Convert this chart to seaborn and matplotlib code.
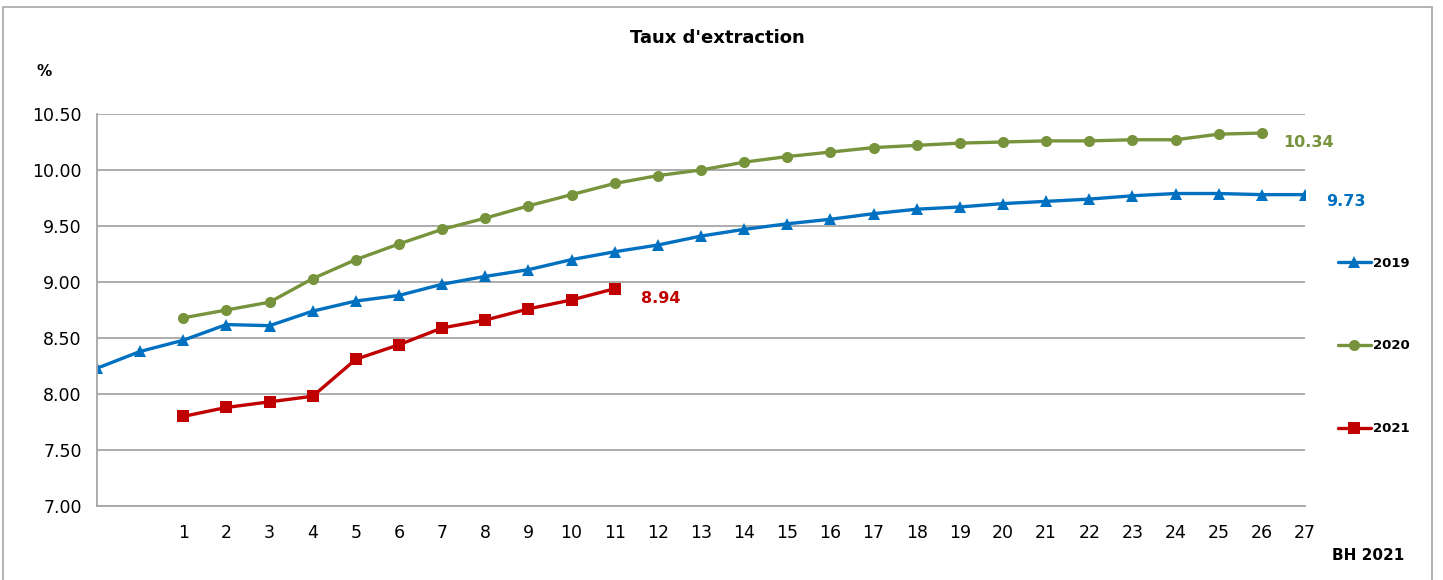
import numpy as np
import pandas as pd
import matplotlib
matplotlib.use("Agg")
import matplotlib.pyplot as plt
from matplotlib.lines import Line2D
from matplotlib.patches import Rectangle
import seaborn as sns

# ---- data ----
categories = ["", ""] + [str(i) for i in range(1, 28)]
years = ["2019", "2020", "2021"]
values_2019 = [8.23, 8.38, 8.48, 8.62, 8.61, 8.74, 8.83, 8.88, 8.98, 9.05,
               9.11, 9.20, 9.27, 9.33, 9.41, 9.47, 9.52, 9.56, 9.61, 9.65,
               9.67, 9.70, 9.72, 9.74, 9.77, 9.79, 9.79, 9.78, 9.78]
values_2020 = [8.68, 8.75, 8.82, 9.03, 9.20, 9.34, 9.47, 9.57, 9.68, 9.78,
               9.88, 9.95, 10.00, 10.07, 10.12, 10.16, 10.20, 10.22, 10.24,
               10.25, 10.26, 10.26, 10.27, 10.27, 10.32, 10.33]
values_2021 = [7.80, 7.88, 7.93, 7.98, 8.31, 8.44, 8.59, 8.66, 8.76, 8.84, 8.94]
start_other = "1"
end_labels = ["9.73", "10.34", "8.94"]
y_ticks = [7.00, 7.50, 8.00, 8.50, 9.00, 9.50, 10.00, 10.50]
title = "Taux d'extraction"
y_unit = "%"
x_title = "BH 2021"

colors = ["#0070C0", "#77933C", "#C00000"]
markers = ["^", "o", "s"]

# ---- build long table ----
rows = []
series = [values_2019, values_2020, values_2021]
starts = [0, categories.index(start_other), categories.index(start_other)]
for yr, vals, s in zip(years, series, starts):
    for i, v in enumerate(vals):
        rows.append({"x": s + i, "value": v, "year": yr})
df = pd.DataFrame(rows)

sns.set_style("white")
plt.rcParams["font.family"] = ["DejaVu Sans"]
plt.rcParams["text.color"] = "black"
plt.rcParams["axes.labelcolor"] = "black"
plt.rcParams["xtick.color"] = "black"
plt.rcParams["ytick.color"] = "black"

fig = plt.figure(figsize=(14.43, 5.80), dpi=100)
ax = fig.add_axes([97 / 1443, 1 - 506 / 580, (1305 - 97) / 1443, (506 - 114) / 580])

sns.lineplot(data=df, x="x", y="value", hue="year", style="year",
             palette=dict(zip(years, colors)), markers=dict(zip(years, markers)),
             dashes=False, linewidth=2.4, markersize=8, markeredgewidth=0,
             ax=ax, legend=False)

ax.set_xlim(0, len(categories) - 1)
ax.set_ylim(y_ticks[0], y_ticks[-1])
ax.set_xticks(range(len(categories)))
ax.set_xticklabels(categories, fontsize=12.5)
ax.set_yticks(y_ticks)
ax.set_yticklabels([f"{t:.2f}" for t in y_ticks], fontsize=12.5)
ax.set_xlabel("")
ax.set_ylabel("")
ax.yaxis.grid(True, color="#A6A6A6", linewidth=1.3)
ax.set_axisbelow(True)
for sp in ["top", "right"]:
    ax.spines[sp].set_visible(False)
for sp in ["left", "bottom"]:
    ax.spines[sp].set_color("#A6A6A6")
    ax.spines[sp].set_linewidth(1.3)
ax.tick_params(axis="x", direction="inout", length=10, width=1.3, color="#A6A6A6",
               pad=8, labelcolor="black")
ax.tick_params(axis="y", direction="out", length=5, width=1.3, color="#A6A6A6",
               pad=6, labelcolor="black")

# end-of-series labels
offsets = [(21, -7), (21, -9), (26, -10)]
for yr, vals, s, lab, c, off in zip(years, series, starts, end_labels, colors, offsets):
    ax.annotate(lab, xy=(s + len(vals) - 1, vals[-1]), xytext=off,
                textcoords="offset pixels", ha="left", va="center",
                color=c, fontsize=11.5, fontweight="bold")

# legend
handles = [Line2D([0], [0], color=c, marker=m, linewidth=2.4, markersize=8,
                  markeredgewidth=0, label=yr)
           for yr, c, m in zip(years, colors, markers)]
leg = fig.legend(handles=handles, loc="center left",
                 bbox_to_anchor=(1331 / 1443, 1 - 346 / 580), frameon=False,
                 prop={"size": 9.5, "weight": "bold"}, labelspacing=5.3,
                 handlelength=2.5, handletextpad=0.15, borderpad=0,
                 labelcolor="black")

fig.text(717 / 1443, 1 - 38 / 580, title, ha="center", va="center",
         fontsize=13, fontweight="bold", color="black")
fig.text(44 / 1443, 1 - 72 / 580, y_unit, ha="center", va="center",
         fontsize=11, fontweight="bold", color="black")
fig.text(1368 / 1443, 1 - 556 / 580, x_title, ha="center", va="center",
         fontsize=11, fontweight="bold", color="black")

# chart-area border
fig.patches.append(Rectangle((3 / 1443, -0.05), (1432 - 3) / 1443, 1.05 - 7 / 580,
                             transform=fig.transFigure, fill=False,
                             edgecolor="#A6A6A6", linewidth=1.2))

fig.savefig("out.png", dpi=100)
